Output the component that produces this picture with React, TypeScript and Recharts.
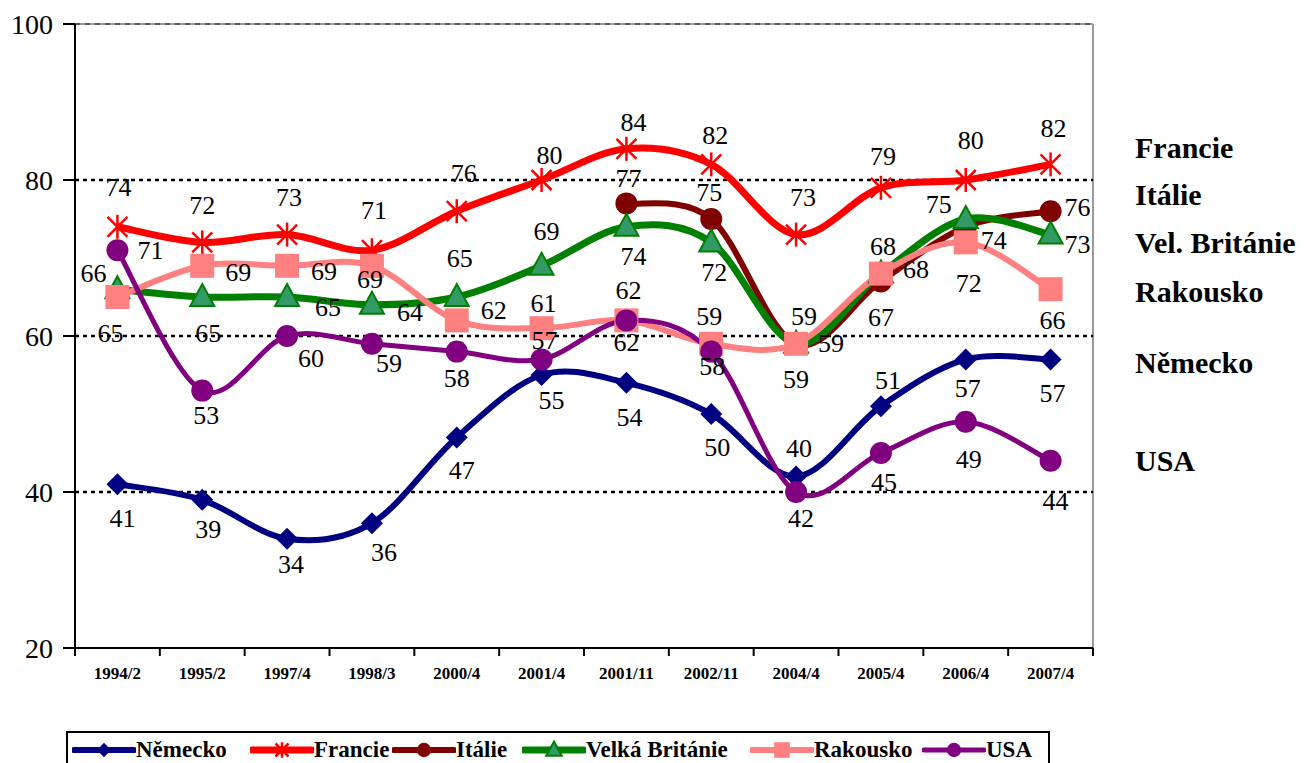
import React from 'react';
import { LineChart, Line, XAxis, YAxis, CartesianGrid, LabelList } from 'recharts';

const categories = ['1994/2', '1995/2', '1997/4', '1998/3', '2000/4', '2001/4', '2001/11', '2002/11', '2004/4', '2005/4', '2006/4', '2007/4'];

const nemecko = [41, 39, 34, 36, 47, 55, 54, 50, 42, 51, 57, 57];
const francie = [74, 72, 73, 71, 76, 80, 84, 82, 73, 79, 80, 82];
const italie = [null, null, null, null, null, null, 77, 75, 59, 67, 74, 76];
const britanie = [66, 65, 65, 64, 65, 69, 74, 72, 59, 68, 75, 73];
const rakousko = [65, 69, 69, 69, 62, 61, 62, 59, 59, 68, 72, 66];
const usa = [71, 53, 60, 59, 58, 57, 62, 58, 40, 45, 49, 44];

// printed data labels (a few of them differ from where the point sits in the original)
const nemeckoLabels = [41, 39, 34, 36, 47, 55, 54, 50, 40, 51, 57, 57];
const italieLabels = [null, null, null, null, null, null, 77, 75, 59, 67, 75, 76];
const britanieLabels = [66, 65, 65, 64, 65, 69, 74, 72, 59, 68, 74, 73];
const usaLabels = [71, 53, 60, 59, 58, 57, 62, 58, 42, 45, 49, 44];

const yTicks = [20, 40, 60, 80, 100];
const gridValues = [40, 60, 80];
const sideLabels = ['Francie', 'Itálie', 'Vel. Británie', 'Rakousko', 'Německo', 'USA'];

// ---- layout ----
const W = 1312;
const H = 763;
const PLOT_LEFT = 75;
const PLOT_TOP = 24;
const PLOT_RIGHT = 1093;
const PLOT_BOTTOM = 648;
const X_AXIS_H = 40;
const BAND = (PLOT_RIGHT - PLOT_LEFT) / categories.length;
const FONT = '"Liberation Serif", "Times New Roman", serif';
const SIDE_Y = [148, 195, 243, 292, 363, 461];
const LEGEND_X = [4, 182, 324, 454, 682, 854];

// label offsets (dx, dy) from each point, as placed in the original
const OFFSETS: Record<string, number[][]> = {
  nemecko: [[5, 34], [6, 30], [4, 26], [12, 29], [5, 33], [10, 25], [3, 35], [6, 33], [3, -28], [7, -26], [2, 29], [2, 34]],
  francie: [[1, -39], [0, -37], [2, -37], [2, -40], [7, -38], [8, -25], [7, -26], [4, -29], [7, -37], [2, -31], [5, -40], [3, -36]],
  italie: [[0, 0], [0, 0], [0, 0], [0, 0], [0, 0], [0, 0], [2, -25], [-2, -27], [35, 0], [0, 36], [-27, -22], [27, -4]],
  britanie: [[-24, -16], [6, 36], [41, 10], [38, 8], [3, -39], [5, -34], [7, 30], [3, 30], [8, -27], [2, -27], [28, 21], [27, 10]],
  rakousko: [[-7, 36], [36, 7], [37, 6], [-2, 14], [37, -10], [2, -25], [2, -30], [-2, -27], [0, 36], [35, -4], [3, 41], [2, 31]],
  usa: [[33, 0], [4, 25], [24, 22], [17, 20], [0, 27], [3, -19], [0, 22], [1, 15], [5, 26], [3, 29], [3, 38], [5, 41]],
};

const data = categories.map((c, i) => ({
  name: c,
  nemecko: nemecko[i],
  francie: francie[i],
  italie: italie[i],
  britanie: britanie[i],
  rakousko: rakousko[i],
  usa: usa[i],
}));

// Excel-like smoothed line (catmull-rom style bezier)
const excelCurve = (context: any) => {
  let pts: number[][] = [];
  return {
    areaStart() {},
    areaEnd() {},
    lineStart() {
      pts = [];
    },
    point(x: number, y: number) {
      pts.push([+x, +y]);
    },
    lineEnd() {
      if (!pts.length) return;
      context.moveTo(pts[0][0], pts[0][1]);
      const t = 1 / 6;
      for (let i = 0; i < pts.length - 1; i++) {
        const p0 = pts[i - 1] || pts[i];
        const p1 = pts[i];
        const p2 = pts[i + 1];
        const p3 = pts[i + 2] || p2;
        context.bezierCurveTo(
          p1[0] + (p2[0] - p0[0]) * t,
          p1[1] + (p2[1] - p0[1]) * t,
          p2[0] - (p3[0] - p1[0]) * t,
          p2[1] - (p3[1] - p1[1]) * t,
          p2[0],
          p2[1]
        );
      }
    },
  };
};

// ---- markers ----
const Marker = ({ kind, cx, cy, s = 1 }: { kind: string; cx: number; cy: number; s?: number }) => {
  if (cx == null || cy == null || isNaN(cy)) return null;
  switch (kind) {
    case 'diamond': {
      const r = 11 * s;
      return <polygon points={`${cx},${cy - r} ${cx + r},${cy} ${cx},${cy + r} ${cx - r},${cy}`} fill="#000080" />;
    }
    case 'star': {
      const r = 12 * s;
      const d = 10 * s;
      return (
        <g stroke="#ff0000" strokeWidth={2.5}>
          <line x1={cx} y1={cy - r} x2={cx} y2={cy + r} />
          <line x1={cx - d} y1={cy - d} x2={cx + d} y2={cy + d} />
          <line x1={cx - d} y1={cy + d} x2={cx + d} y2={cy - d} />
        </g>
      );
    }
    case 'circleIt':
      return <circle cx={cx} cy={cy} r={11 * s} fill="#800000" />;
    case 'circleUs':
      return <circle cx={cx} cy={cy} r={11 * s} fill="#800080" />;
    case 'triangle': {
      const w = 12 * s;
      return (
        <polygon
          points={`${cx},${cy - 13 * s} ${cx + w},${cy + 9 * s} ${cx - w},${cy + 9 * s}`}
          fill="#339966"
          stroke="#008000"
          strokeWidth={2}
        />
      );
    }
    case 'square': {
      const h = 12 * s;
      return <rect x={cx - h} y={cy - h} width={2 * h} height={2 * h} fill="#ff8080" />;
    }
  }
  return null;
};

const makeLabel = (key: string, texts: (number | null)[]) => (props: any) => {
  const { x, y, index } = props;
  const txt = texts[index];
  if (txt == null || y == null) return null;
  const [dx, dy] = OFFSETS[key][index];
  return (
    <text
      key={`${key}-l-${index}`}
      x={x + dx}
      y={y + dy}
      textAnchor="middle"
      dominantBaseline="central"
      style={{ fontFamily: FONT, fontSize: 26, fill: '#000' }}
    >
      {txt}
    </text>
  );
};

const XTick = (props: any) => {
  const { x, payload, index } = props;
  const last = index === categories.length - 1;
  return (
    <g>
      <line x1={x - BAND / 2} x2={x - BAND / 2} y1={PLOT_BOTTOM} y2={PLOT_BOTTOM + 8} stroke="#000" strokeWidth={2} />
      {last && <line x1={x + BAND / 2} x2={x + BAND / 2} y1={PLOT_BOTTOM} y2={PLOT_BOTTOM + 8} stroke="#000" strokeWidth={2} />}
      <text
        x={x}
        y={PLOT_BOTTOM + 25}
        textAnchor="middle"
        dominantBaseline="central"
        style={{ fontFamily: FONT, fontWeight: 'bold', fontSize: 17, fill: '#000' }}
      >
        {payload.value}
      </text>
    </g>
  );
};

const SERIES = [
  { key: 'nemecko', name: 'Německo', color: '#000080', width: 6, marker: 'diamond', labels: nemeckoLabels },
  { key: 'francie', name: 'Francie', color: '#ff0000', width: 7, marker: 'star', labels: francie },
  { key: 'italie', name: 'Itálie', color: '#800000', width: 6, marker: 'circleIt', labels: italieLabels },
  { key: 'britanie', name: 'Velká Británie', color: '#008000', width: 7, marker: 'triangle', labels: britanieLabels },
  { key: 'rakousko', name: 'Rakousko', color: '#ff8080', width: 6, marker: 'square', labels: rakousko },
  { key: 'usa', name: 'USA', color: '#800080', width: 5, marker: 'circleUs', labels: usaLabels },
];

const LegendBox = () => (
  <div
    style={{
      position: 'absolute',
      left: 66,
      top: 731,
      width: 984,
      height: 40,
      border: '2px solid #000',
      boxSizing: 'border-box',
      background: '#fff',
    }}
  >
    {SERIES.map((s, i) => (
      <div
        key={s.key}
        style={{ position: 'absolute', left: LEGEND_X[i], top: 0, height: 34, display: 'flex', alignItems: 'center' }}
      >
        <svg width={64} height={30}>
          <line x1={2} x2={62} y1={15} y2={15} stroke={s.color} strokeWidth={s.width} strokeLinecap="round" />
          <Marker kind={s.marker} cx={32} cy={15} s={0.65} />
        </svg>
        <span style={{ fontFamily: FONT, fontWeight: 'bold', fontSize: 23, color: '#000', whiteSpace: 'nowrap' }}>
          {s.name}
        </span>
      </div>
    ))}
  </div>
);

export default function App() {
  return (
    <div style={{ position: 'absolute', left: 0, top: 0, width: W, height: H, background: '#fff', overflow: 'hidden' }}>
      <LineChart
        width={W}
        height={H}
        data={data}
        margin={{ top: PLOT_TOP, right: W - PLOT_RIGHT, bottom: H - PLOT_BOTTOM - X_AXIS_H, left: 0 }}
      >
        <CartesianGrid
          horizontalPoints={[PLOT_TOP]}
          verticalPoints={[PLOT_RIGHT]}
          stroke="#9a9a9a"
          strokeWidth={2}
        />
        <CartesianGrid vertical={false} horizontalPoints={[PLOT_TOP]} stroke="#555" strokeDasharray="5 5" strokeWidth={2} />
        <CartesianGrid vertical={false} horizontalValues={gridValues} stroke="#000" strokeDasharray="4 4" strokeWidth={2.5} />
        <XAxis
          dataKey="name"
          scale="band"
          interval={0}
          height={X_AXIS_H}
          axisLine={{ stroke: '#000', strokeWidth: 2 }}
          tickLine={false}
          tick={<XTick />}
        />
        <YAxis
          domain={[20, 100]}
          ticks={yTicks}
          width={PLOT_LEFT}
          interval={0}
          axisLine={{ stroke: '#000', strokeWidth: 2 }}
          tickLine={{ stroke: '#000', strokeWidth: 2 }}
          tickSize={12}
          tickMargin={10}
          tick={{ fontFamily: FONT, fontSize: 28, fill: '#000' }}
        />
        {SERIES.map((s) => (
          <Line
            key={s.key}
            dataKey={s.key}
            type={excelCurve as any}
            stroke={s.color}
            strokeWidth={s.width}
            isAnimationActive={false}
            activeDot={false}
            dot={(p: any) => (
              <g key={`${s.key}-d-${p.index}`}>
                <Marker kind={s.marker} cx={p.cx} cy={p.cy} />
              </g>
            )}
          >
            <LabelList dataKey={s.key} content={makeLabel(s.key, s.labels)} />
          </Line>
        ))}
      </LineChart>
      {sideLabels.map((t, i) => (
        <div
          key={t}
          style={{
            position: 'absolute',
            left: 1135,
            top: SIDE_Y[i] - 18,
            height: 36,
            lineHeight: '36px',
            fontFamily: FONT,
            fontWeight: 'bold',
            fontSize: 30,
            whiteSpace: 'nowrap',
          }}
        >
          {t}
        </div>
      ))}
      <LegendBox />
    </div>
  );
}
